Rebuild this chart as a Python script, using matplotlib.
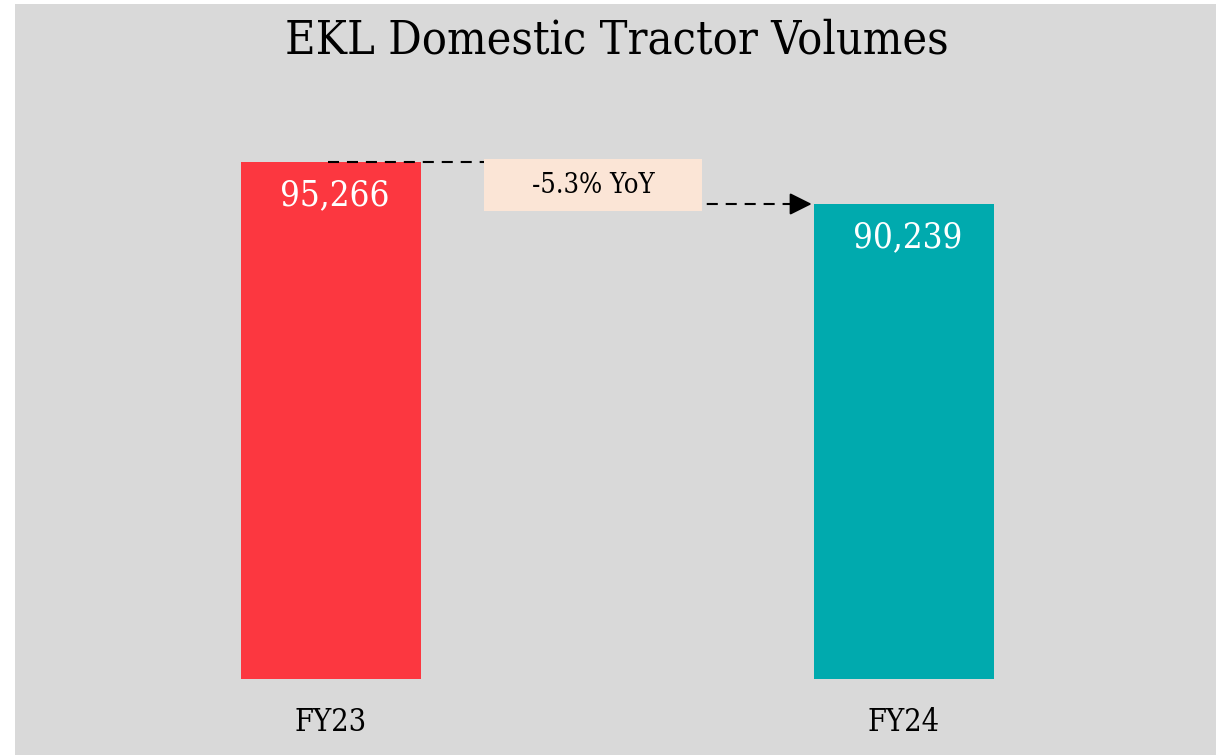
import matplotlib
matplotlib.use("Agg")
import matplotlib.pyplot as plt
from matplotlib.patches import Rectangle

categories = ["FY23", "FY24"]
values = [95266, 90239]
bar_colors = ["#FC3740", "#00AAAE"]
value_labels = ["95,266", "90,239"]
yoy_label = "-5.3% YoY"
title = "EKL Domestic Tractor Volumes"

FONT = dict(family="DejaVu Serif", stretch="condensed")

W, H = 1216, 755
fig = plt.figure(figsize=(W / 100, H / 100), dpi=100)
fig.patch.set_facecolor("white")
fig.patches.append(Rectangle((15 / W, 0), 1 - 15 / W, 1 - 4 / H,
                             transform=fig.transFigure, facecolor="#D9D9D9",
                             edgecolor="none", zorder=-5))

ax = fig.add_axes([44.5 / W, 76 / H, 1146 / W, 597 / H])
ax.set_facecolor("none")
ax.set_xlim(-0.5, 1.5)
ax.set_ylim(33386, 104840)
x = list(range(len(categories)))
bw = 0.314
ax.bar(x, values, width=bw, color=bar_colors, zorder=2)

for xi, v, lab in zip(x, values, value_labels):
    ax.annotate(lab, xy=(xi, v), xytext=(3, -24), textcoords="offset points",
                ha="center", va="center", color="white", fontsize=25, **FONT)

ax.set_xticks(x)
ax.set_xticklabels(categories, fontsize=22, **FONT)
ax.tick_params(axis="x", length=0, pad=20)
ax.tick_params(axis="y", left=False, labelleft=False)
for s in ax.spines.values():
    s.set_visible(False)

mid = 0.457
ls = (0, (5.3, 3.8))
ax.plot([-0.005, mid], [values[0], values[0]], color="black", lw=1.5,
        linestyle=ls, zorder=3)
tip = x[1] - bw / 2 - 0.004
ax.plot([mid, tip - 0.02], [values[1], values[1]], color="black", lw=1.5,
        linestyle=ls, zorder=3)
ax.annotate("", xy=(tip, values[1]), xytext=(tip - 0.03, values[1]),
            arrowprops=dict(arrowstyle="-|>,head_length=0.9,head_width=0.45",
                            color="black", lw=1.5, shrinkA=0, shrinkB=0,
                            mutation_scale=15), zorder=4)

box_w = 0.380
box_lo, box_hi = 89400, 95624
ax.add_patch(Rectangle((mid - box_w / 2, box_lo), box_w, box_hi - box_lo,
                       facecolor="#FBE5D6", edgecolor="none", zorder=4))
ax.text(mid, (box_lo + box_hi) / 2, yoy_label, ha="center", va="center",
        fontsize=19.5, color="black", zorder=5, **FONT)

fig.text(617 / W, 1 - 41 / H, title, ha="center", va="center", fontsize=33.5,
         color="black", **FONT)

fig.savefig("out.png", dpi=100, facecolor=fig.get_facecolor())
